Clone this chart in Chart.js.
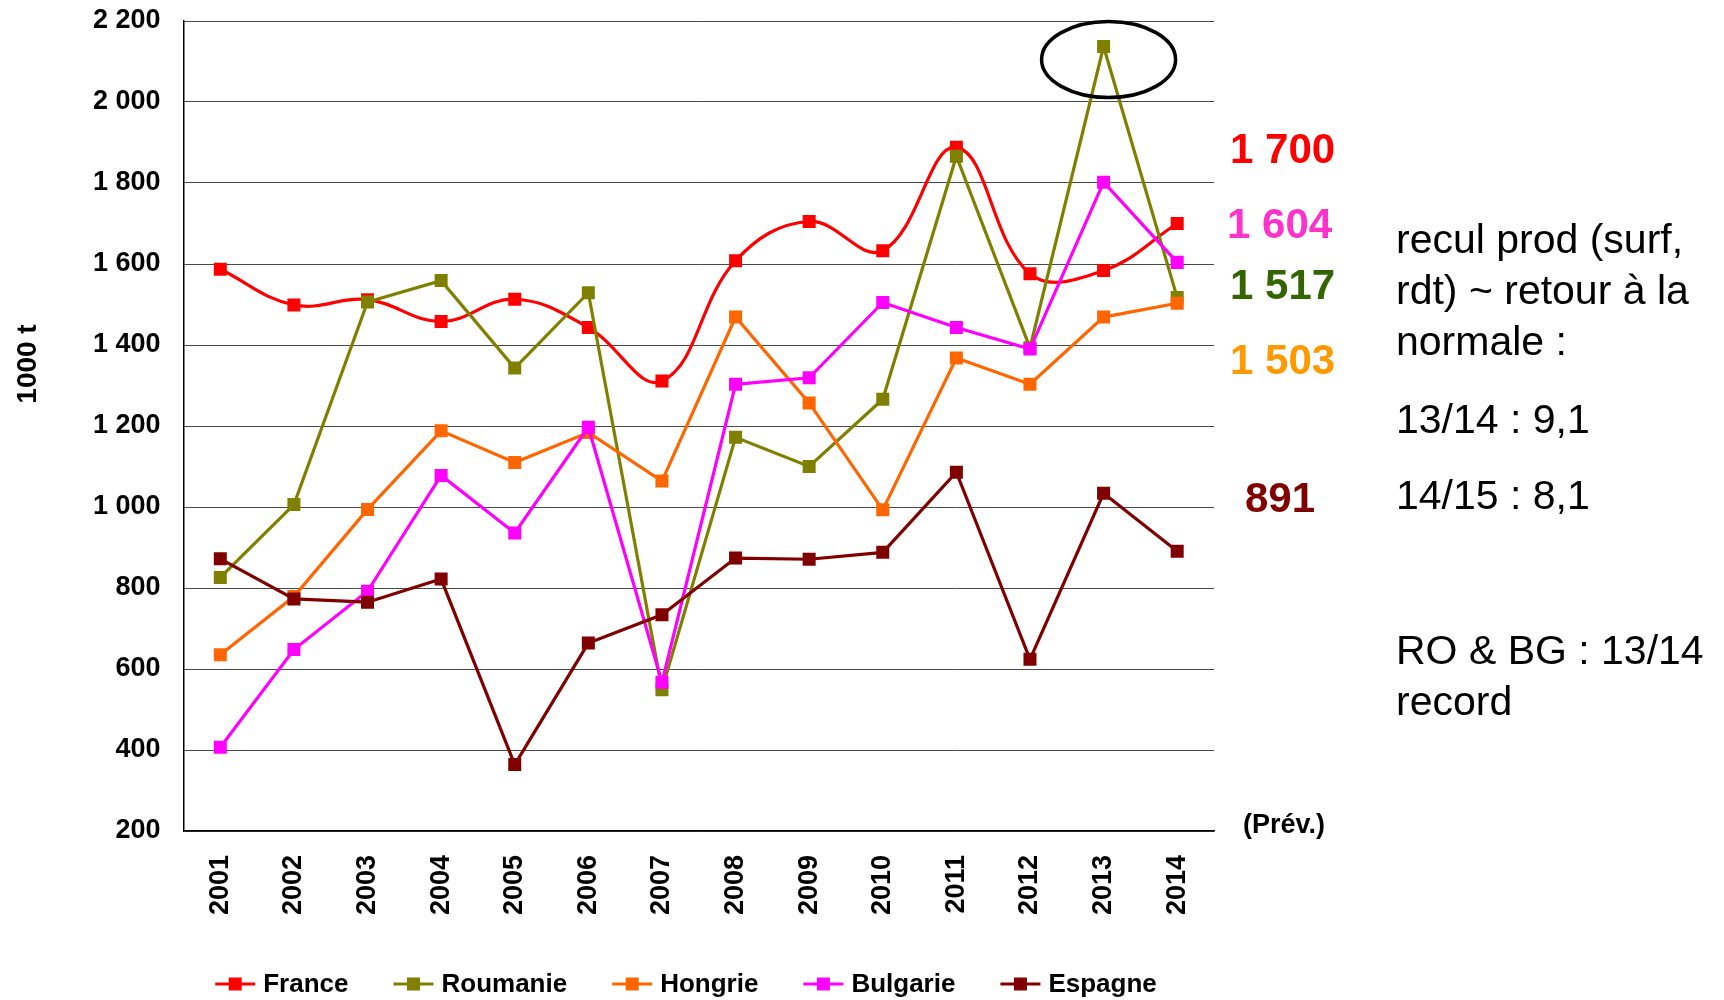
<!DOCTYPE html>
<html>
<head>
<meta charset="utf-8">
<script src="https://cdn.jsdelivr.net/npm/chart.js@4.4.1/dist/chart.umd.min.js"></script>
<style>
  html, body { margin: 0; padding: 0; background: #ffffff; }
  canvas { display: block; }
</style>
</head>
<body>
<canvas id="c" width="1724" height="1000"></canvas>
<script>
// ---- data ----
const years = ['2001','2002','2003','2004','2005','2006','2007','2008','2009','2010','2011','2012','2013','2014'];
const france   = [1587, 1499, 1512, 1458, 1513, 1443, 1311, 1608, 1705, 1633, 1888, 1576, 1584, 1700];
const roumanie = [826, 1006, 1506, 1559, 1343, 1529, 549, 1172, 1100, 1266, 1866, 1393, 2137, 1517];
const hongrie  = [635, 779, 994, 1188, 1110, 1184, 1064, 1469, 1257, 993, 1368, 1303, 1469, 1503];
const bulgarie = [407, 648, 792, 1078, 936, 1197, 567, 1303, 1319, 1505, 1443, 1390, 1802, 1604];
const espagne  = [872, 773, 765, 822, 364, 664, 734, 874, 871, 888, 1086, 624, 1034, 891];
const seriesNames = ['France', 'Roumanie', 'Hongrie', 'Bulgarie', 'Espagne'];
const lastLabels = ['1 700', '1 604', '1 517', '1 503', '891'];
const noteLines = ['recul prod (surf,', 'rdt) ~ retour à la', 'normale :', '13/14 : 9,1', '14/15 : 8,1', 'RO & BG : 13/14', 'record'];
const yTitle = '1000 t';
const prevLabel = '(Prév.)';

// ---- styles ----
const FONT = "'Liberation Sans', Arial, Helvetica, sans-serif";
const colors = ['#FF0000', '#808000', '#FF6600', '#FF00FF', '#800000'];

function fmt(v) { return String(v).replace(/\B(?=(\d{3})+(?!\d))/g, ' '); }

function ds(label, data, color, order, tension) {
  return {
    label: label, data: data,
    borderColor: color, backgroundColor: color,
    borderWidth: 3.2,
    pointStyle: 'rect', pointRadius: 9.2, pointHoverRadius: 9.2,
    pointBackgroundColor: color, pointBorderColor: color, pointBorderWidth: 0,
    tension: tension, order: order, fill: false
  };
}

const annotations = {
  id: 'annotations',
  afterDatasetsDraw(chart) {
    const ctx = chart.ctx;
    // ellipse around Roumanie 2013 record
    const pt = chart.getDatasetMeta(1).data[12];
    ctx.save();
    ctx.beginPath();
    ctx.ellipse(pt.x + 5, pt.y + 13, 67, 38, 0, 0, Math.PI * 2);
    ctx.lineWidth = 3.5;
    ctx.strokeStyle = '#000';
    ctx.stroke();
    ctx.restore();
  },
  afterDraw(chart) {
    const ctx = chart.ctx;
    const a = chart.chartArea;
    ctx.save();
    // y-axis title
    ctx.translate(28, 364);
    ctx.rotate(-Math.PI / 2);
    ctx.font = 'bold 28px ' + FONT;
    ctx.fillStyle = '#000';
    ctx.textAlign = 'center';
    ctx.textBaseline = 'middle';
    ctx.fillText(yTitle, 0, 0);
    ctx.restore();

    // coloured final values
    const lblColors = ['#FF0000', '#FF33CC', '#336600', '#FF9900', '#800000'];
    const lblBase = [163, 238, 299, 374, 512];
    const lblX = [1230, 1227, 1230, 1230, 1245];
    ctx.save();
    ctx.font = 'bold 42px ' + FONT;
    ctx.textAlign = 'left';
    ctx.textBaseline = 'alphabetic';
    for (let i = 0; i < lastLabels.length; i++) {
      ctx.fillStyle = lblColors[i];
      ctx.fillText(lastLabels[i], lblX[i], lblBase[i]);
    }
    // (Prév.)
    ctx.fillStyle = '#000';
    ctx.font = 'bold 27px ' + FONT;
    ctx.fillText(prevLabel, a.right + 29, 833);
    // notes
    ctx.font = '41px ' + FONT;
    const noteBase = [253, 304, 355, 433, 509, 664, 715];
    for (let i = 0; i < noteLines.length; i++) {
      ctx.fillText(noteLines[i], 1396, noteBase[i]);
    }
    ctx.restore();

    // legend
    ctx.save();
    ctx.font = 'bold 26px ' + FONT;
    ctx.textBaseline = 'middle';
    ctx.textAlign = 'left';
    const mW = 40, gap = 8, sp = 45;
    const widths = seriesNames.map(n => mW + gap + ctx.measureText(n).width);
    const total = widths.reduce((s, w) => s + w, 0) + sp * (widths.length - 1);
    let x = 686 - total / 2;
    const y = 984;
    seriesNames.forEach((n, i) => {
      ctx.strokeStyle = colors[i];
      ctx.fillStyle = colors[i];
      ctx.lineWidth = 3.2;
      ctx.beginPath();
      ctx.moveTo(x, y);
      ctx.lineTo(x + mW, y);
      ctx.stroke();
      ctx.fillRect(x + mW / 2 - 6.5, y - 6.5, 13, 13);
      ctx.fillStyle = '#000';
      ctx.fillText(n, x + mW + gap, y + 1);
      x += widths[i] + sp;
    });
    ctx.restore();
  }
};

new Chart(document.getElementById('c'), {
  type: 'line',
  data: {
    labels: years,
    datasets: [
      ds(seriesNames[0], france, colors[0], 5, 0.4),
      ds(seriesNames[1], roumanie, colors[1], 4, 0),
      ds(seriesNames[2], hongrie, colors[2], 3, 0),
      ds(seriesNames[3], bulgarie, colors[3], 2, 0),
      ds(seriesNames[4], espagne, colors[4], 1, 0)
    ]
  },
  options: {
    responsive: false,
    devicePixelRatio: 1,
    animation: false,
    events: [],
    layout: { padding: { left: 0, top: 21, right: 510, bottom: 0 } },
    plugins: { legend: { display: false }, tooltip: { enabled: false } },
    scales: {
      x: {
        type: 'category',
        offset: true,
        grid: { display: false, drawTicks: false },
        border: { display: true, color: '#000', width: 1.5 },
        ticks: {
          autoSkip: false, minRotation: 90, maxRotation: 90, padding: 24,
          color: '#000', font: { family: FONT, size: 27, weight: 'bold' }
        },
        afterFit(scale) { scale.height = 169; scale.paddingLeft = 0; scale.paddingRight = 0; }
      },
      y: {
        min: 200, max: 2200,
        grid: { color: '#4a4a4a', lineWidth: 1, drawTicks: false },
        border: { display: true, color: '#000', width: 1.5 },
        ticks: {
          stepSize: 200, padding: 23, color: '#000',
          font: { family: FONT, size: 27, weight: 'bold' },
          callback: (v) => fmt(v)
        },
        afterFit(scale) { scale.width = 183.5; scale.paddingTop = 0; scale.paddingBottom = 0; }
      }
    }
  },
  plugins: [annotations]
});
</script>
</body>
</html>
